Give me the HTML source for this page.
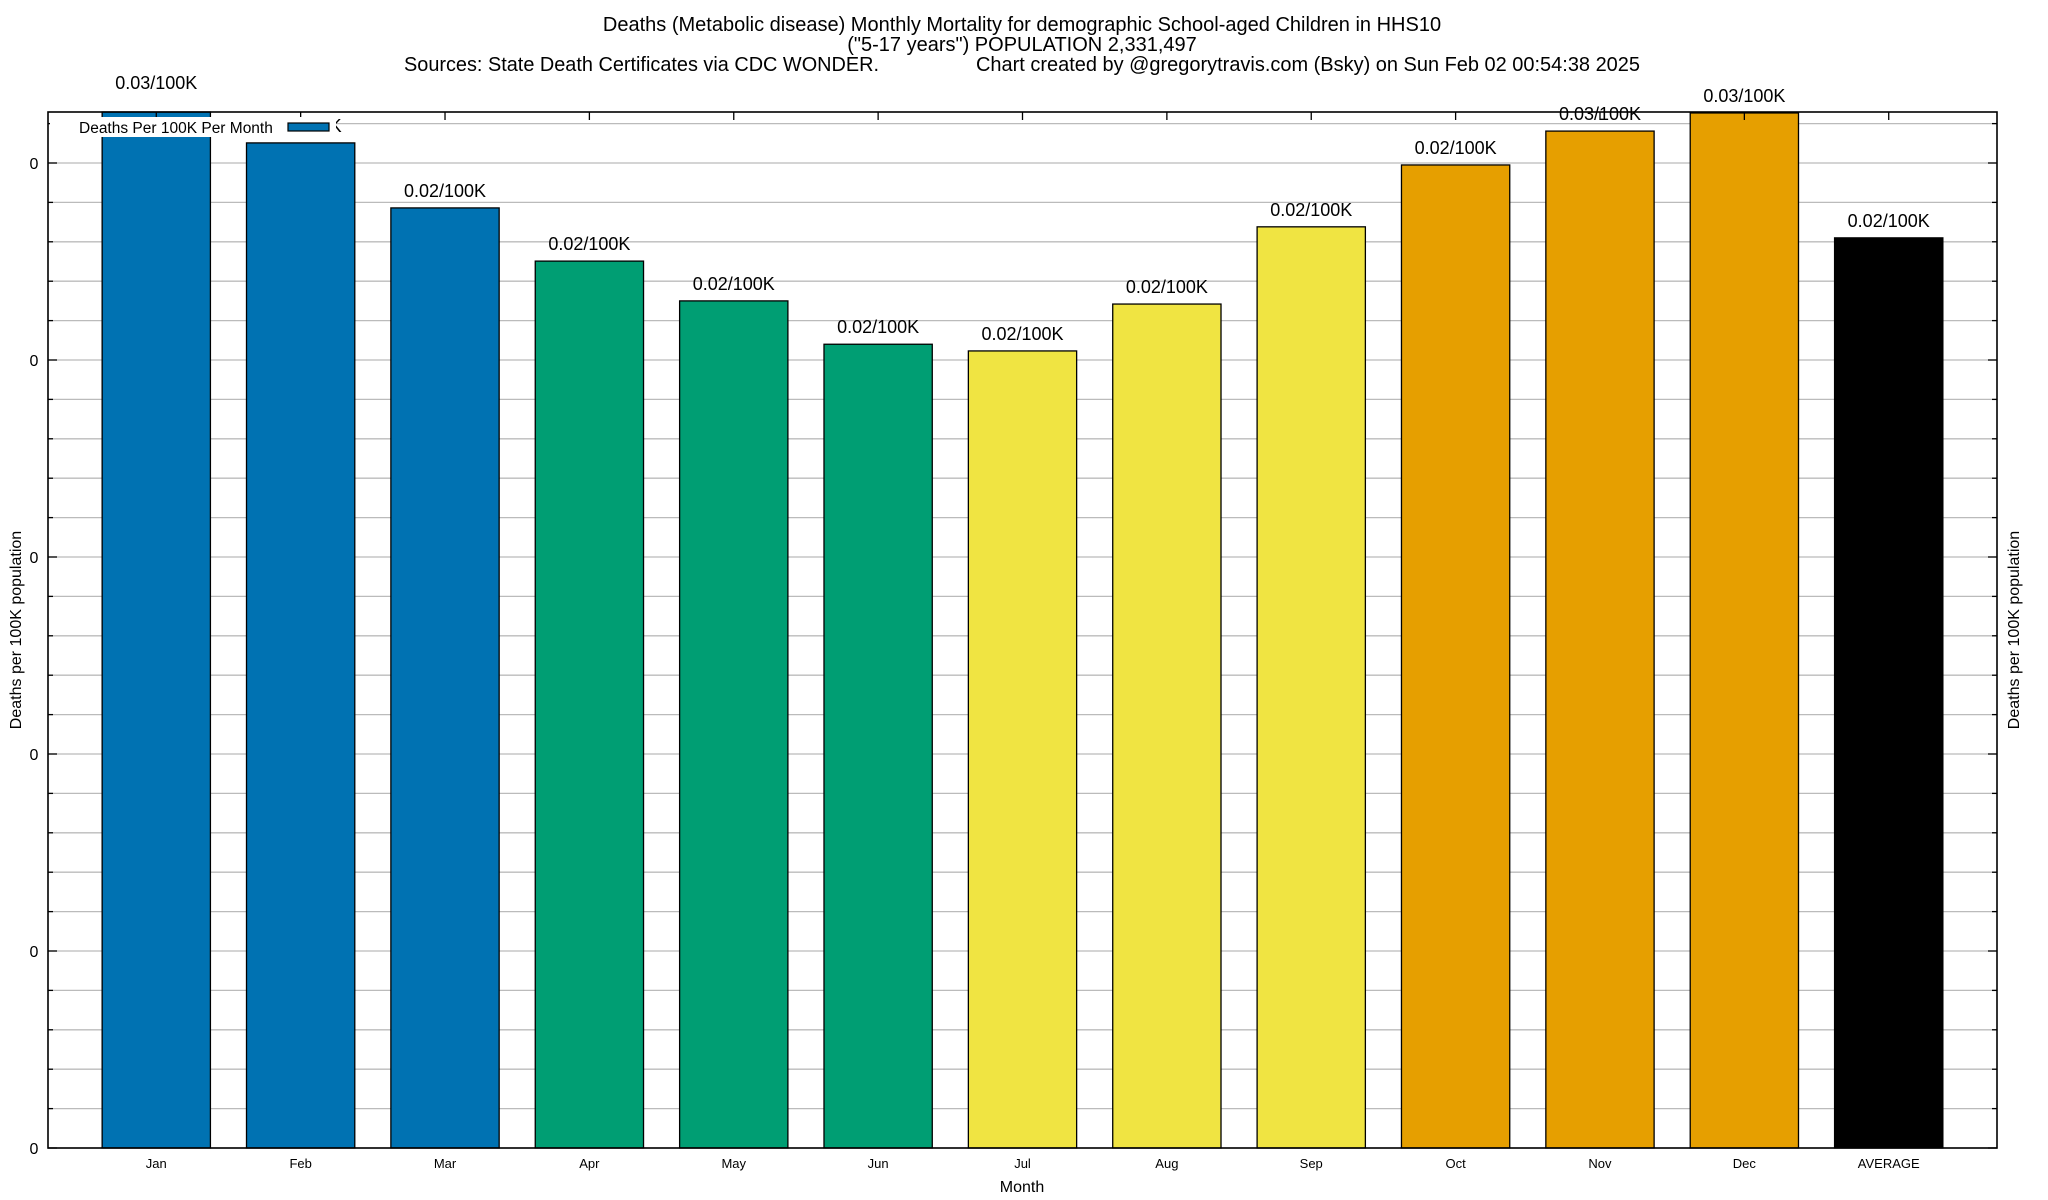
<!DOCTYPE html>
<html><head><meta charset="utf-8"><style>
html,body{margin:0;padding:0;background:#fff;}
svg{display:block;font-family:"Liberation Sans",Arial,sans-serif;}
</style></head><body>
<svg id="chart" width="2048" height="1200" viewBox="0 0 2048 1200" xmlns="http://www.w3.org/2000/svg">
<rect x="0" y="0" width="2048" height="1200" fill="#fff"/>
<g font-size="20" fill="#000" text-anchor="middle">
<text x="1022" y="31">Deaths (Metabolic disease) Monthly Mortality for demographic School-aged Children in HHS10</text>
<text x="1022" y="51">("5-17 years") POPULATION 2,331,497</text>
<text x="404" y="71" text-anchor="start" textLength="475" lengthAdjust="spacingAndGlyphs">Sources: State Death Certificates via CDC WONDER.</text>
<text x="976" y="71" text-anchor="start" textLength="664" lengthAdjust="spacingAndGlyphs">Chart created by @gregorytravis.com (Bsky) on Sun Feb 02 00:54:38 2025</text>
</g>
<g id="grid"></g>
<g id="bars"></g>
<g id="axes"></g>
<text transform="translate(21,630) rotate(-90)" text-anchor="middle" font-size="16">Deaths per 100K population</text>
<text transform="translate(2019,630) rotate(-90)" text-anchor="middle" font-size="16">Deaths per 100K population</text>
<text x="1022" y="1192" text-anchor="middle" font-size="16">Month</text>
</svg>
<script>
const categories = ["Jan","Feb","Mar","Apr","May","Jun","Jul","Aug","Sep","Oct","Nov","Dec","AVERAGE"];
const values = [0.0266,0.02551,0.02386,0.02251,0.0215,0.0204,0.02023,0.02142,0.02338,0.02495,0.02581,0.02627,0.0231];
const valueLabels = ["0.03/100K","0.03/100K","0.02/100K","0.02/100K","0.02/100K","0.02/100K","0.02/100K","0.02/100K","0.02/100K","0.02/100K","0.03/100K","0.03/100K","0.02/100K"];
const barColors = ["#0072b2","#0072b2","#0072b2","#009e73","#009e73","#009e73","#f0e442","#f0e442","#f0e442","#e69f00","#e69f00","#e69f00","#000000"];
const yTicks = [0,0.005,0.01,0.015,0.02,0.025];
const yTickLabels = ["0","0","0","0","0","0"];

const NS="http://www.w3.org/2000/svg";
const L=48,R=1997,T=112,B=1148;
const yMax=0.005*(B-T)/197;
function xs(i){return L+(i+0.75)*(R-L)/13.5;}
function ys(v){return B-(v/yMax)*(B-T);}
const slot=(R-L)/13.5, bw=slot*0.75;
function mk(tag,attrs,parent){const e=document.createElementNS(NS,tag);for(const k in attrs)e.setAttribute(k,attrs[k]);parent.appendChild(e);return e;}
const grid=document.getElementById('grid'),bars=document.getElementById('bars'),axes=document.getElementById('axes');
for(let v=0; v<=yMax+1e-9; v+=0.001){
  const y=ys(v);
  const g=mk('line',{x1:L,x2:R,y1:y,y2:y,stroke:'#bbbbbb','stroke-width':1.3},grid);
  
  
  const major=Math.abs(v/0.005-Math.round(v/0.005))<1e-6;
  const len=major?9:5;
  const t1=mk('line',{x1:L,x2:L+len,y1:y,y2:y,stroke:'#000','stroke-width':1.3},axes);
  
  
  const t2=mk('line',{x1:R-len,x2:R,y1:y,y2:y,stroke:'#000','stroke-width':1.3},axes);
  
  
}
yTicks.forEach((v,i)=>{
  const t=mk('text',{x:34,y:ys(v)+6,'text-anchor':'middle','font-size':16},axes);
  t.textContent=yTickLabels[i];
  
  
});
categories.forEach((c,i)=>{
  const x=xs(i), y=ys(values[i]);
  const yt=Math.max(y,T);
  const r=mk('rect',{x:x-bw/2,y:yt,width:bw,height:B-yt,fill:barColors[i],stroke:'#000','stroke-width':1.3},bars);
  
  
  const lb=mk('text',{x:x,y:y-11,'text-anchor':'middle','font-size':18},bars);
  lb.textContent=valueLabels[i];
  
  
  const xl=mk('text',{x:x,y:1168,'text-anchor':'middle','font-size':13},axes);
  xl.textContent=c;
  
  
  const tt=mk('line',{x1:x,x2:x,y1:T,y2:T+8,stroke:'#000','stroke-width':1.3},axes);
  
  
});
const lg=mk('g',{},axes);


mk('rect',{x:50,y:117,width:286,height:20,fill:'#fff'},lg);
const lt=mk('text',{x:79,y:133,'font-size':15.5},lg);
lt.textContent='Deaths Per 100K Per Month';


const sw=mk('rect',{x:288,y:123,width:41,height:8,fill:'#0072b2',stroke:'#000','stroke-width':1.2},lg);


const fr=mk('rect',{x:L,y:T,width:R-L,height:B-T,fill:'none',stroke:'#000','stroke-width':1.6},axes);


</script>
</body></html>
